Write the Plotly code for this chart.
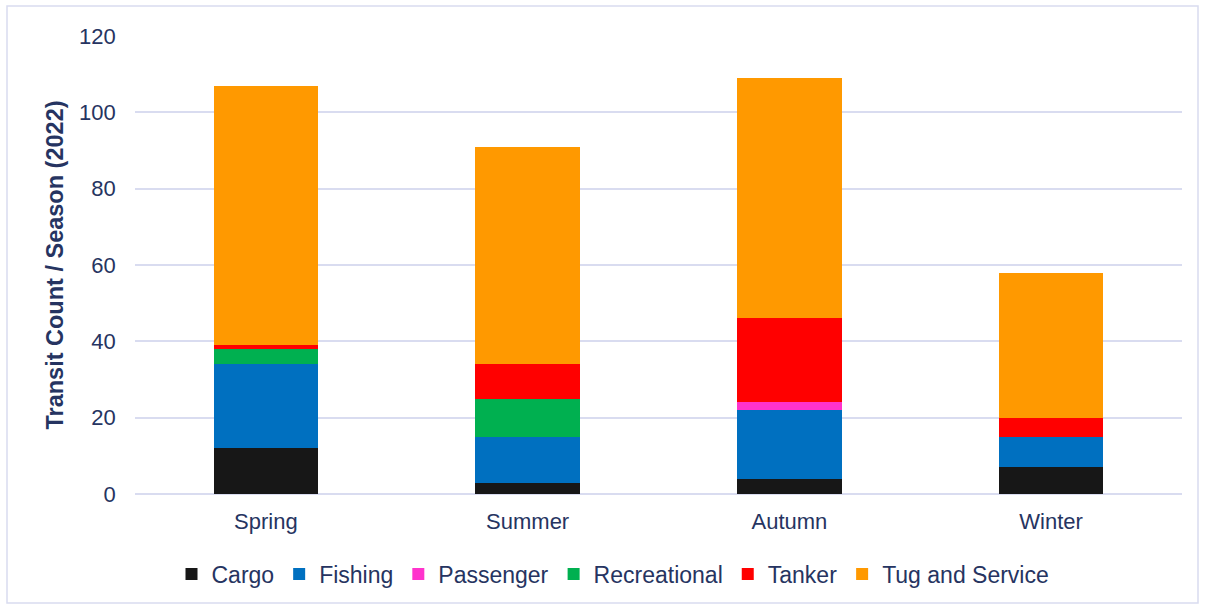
import plotly.graph_objects as go

seasons = ["Spring", "Summer", "Autumn", "Winter"]
cargo = [12, 3, 4, 7]
fishing = [22, 12, 18, 8]
passenger = [0, 0, 2, 0]
recreational = [4, 10, 0, 0]
tanker = [1, 9, 22, 5]
tug_service = [68, 57, 63, 38]

series = [
    ("Cargo", cargo, "#171717"),
    ("Fishing", fishing, "#0070C0"),
    ("Passenger", passenger, "#FF33CC"),
    ("Recreational", recreational, "#00B050"),
    ("Tanker", tanker, "#FF0000"),
    ("Tug and Service", tug_service, "#FF9900"),
]

text_color = "#263461"
fig = go.Figure()
for name, vals, col in series:
    fig.add_trace(go.Bar(name=name, x=seasons, y=vals, marker_color=col,
                         marker_line_width=0))

W, H = 1205, 608
ml, mr, mt, mb = 135, 23, 36, 114
pw, ph = W - ml - mr, H - mt - mb

def px_x(x):
    return (x - ml) / pw

def px_y(y):
    return (H - mb - y) / ph

fig.update_layout(
    width=W, height=H,
    barmode="stack", bargap=0.6,
    margin=dict(l=ml, r=mr, t=mt, b=mb),
    paper_bgcolor="white", plot_bgcolor="white",
    font=dict(family="Liberation Sans, Arial, sans-serif", color=text_color, size=22),
    xaxis=dict(showgrid=False, showline=False, ticks="", tickfont=dict(size=22),
               ticklabelstandoff=12),
    yaxis=dict(range=[0, 120], dtick=20, gridcolor="#D9DCF0", gridwidth=1.5,
               zeroline=True, zerolinecolor="#D9DCF0", zerolinewidth=1.5,
               tickfont=dict(size=22), ticksuffix="   ",
               title=dict(text="<b>Transit Count / Season (2022)</b>",
                          font=dict(size=23.5), standoff=8)),
    legend=dict(orientation="h", x=px_x(613), xanchor="center", y=px_y(574), yanchor="middle",
                font=dict(size=23), itemwidth=30, traceorder="normal"),
    shapes=[dict(type="rect", xref="paper", yref="paper",
                 x0=px_x(7), x1=px_x(1198), y0=px_y(603), y1=px_y(6),
                 line=dict(color="#D9DCF0", width=1.5), fillcolor="rgba(0,0,0,0)")],
)

fig.write_html("out.html")
